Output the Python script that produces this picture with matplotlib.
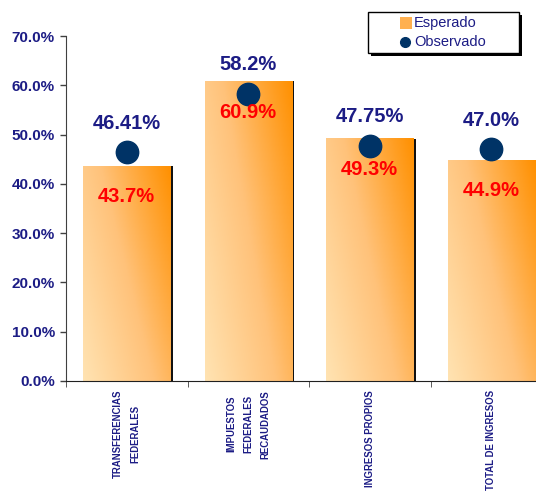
import numpy as np
import matplotlib
matplotlib.use("Agg")
import matplotlib.pyplot as plt
from matplotlib.colors import LinearSegmentedColormap
from matplotlib.patches import Rectangle
from matplotlib.lines import Line2D

categorias = ["TRANSFERENCIAS\nFEDERALES", "IMPUESTOS\nFEDERALES\nRECAUDADOS",
              "INGRESOS PROPIOS", "TOTAL DE INGRESOS"]
esperado = [43.7, 60.9, 49.3, 44.9]
observado = [46.41, 58.2, 47.75, 47.0]
etiquetas_obs = ["46.41%", "58.2%", "47.75%", "47.0%"]
etiquetas_esp = ["43.7%", "60.9%", "49.3%", "44.9%"]
yticks = [0, 10, 20, 30, 40, 50, 60, 70]

NAVY = "#1c1c85"
MARCA = "#003366"
ROJO = "#ff0000"
FUENTE = ["Liberation Sans", "DejaVu Sans"]

naranja = LinearSegmentedColormap.from_list("naranja", ["#ffe3b2", "#ffc27a", "#ff9000"])

W, H = 536, 493
fig = plt.figure(figsize=(W / 100, H / 100), dpi=100)
ax = fig.add_axes([66 / W, 1 - 381 / H, 486 / W, 345 / H])

x = np.arange(len(categorias))
ancho = 0.72

# sombra negra detras de cada barra
ax.bar(x + 0.018, np.array(esperado) - 0.1, width=ancho, color="#111111", zorder=1)
barras = ax.bar(x, esperado, width=ancho, color="none", zorder=2)

# relleno degradado diagonal
u, v = np.meshgrid(np.linspace(0, 1, 80), np.linspace(1, 0, 160))
grad = np.clip(0.62 * u + 0.38 * v, 0, 1)
for b in barras:
    x0, w, h = b.get_x(), b.get_width(), b.get_height()
    im = ax.imshow(grad, cmap=naranja, extent=[x0, x0 + w, 0, h],
                   aspect="auto", zorder=2, vmin=0, vmax=1)
    im.set_clip_path(b)

ax.scatter(x, observado, s=260, color=MARCA, zorder=4)

for i in range(len(categorias)):
    ax.annotate(etiquetas_obs[i], (x[i], observado[i]), xytext=(0, 21),
                textcoords="offset points", ha="center", va="center",
                color=NAVY, fontsize=14.5, fontweight="bold", family=FUENTE, zorder=5)
    ax.annotate(etiquetas_esp[i], (x[i], esperado[i]), xytext=(0, -22.5),
                textcoords="offset points", ha="center", va="center",
                color=ROJO, fontsize=14.5, fontweight="bold", family=FUENTE, zorder=5)

ax.set_xlim(-0.5, 3.5)
ax.set_ylim(0, 70)
ax.set_yticks(yticks)
ax.set_yticklabels(["%.1f%%" % t for t in yticks], color=NAVY, fontsize=11,
                   fontweight="bold", family=FUENTE)
ax.tick_params(axis="y", direction="out", length=4, width=1, color="#404040", pad=4)

ax.set_xticks(x)
ax.set_xticklabels([])
ax.set_xticks([-0.5, 0.5, 1.5, 2.5], minor=True)
ax.tick_params(axis="x", which="major", length=0)
ax.tick_params(axis="x", which="minor", direction="out", length=4, color="#404040")
for i, c in enumerate(categorias):
    ax.text(x[i], -1.8, c, rotation=90, ha="center", va="top", multialignment="center",
            linespacing=1.85, color=NAVY, fontsize=6.9, fontweight="bold", family=FUENTE)

for s in ["top", "right"]:
    ax.spines[s].set_visible(False)
ax.spines["left"].set_color("#404040")
ax.spines["bottom"].set_color("#202020")

# leyenda dibujada a mano en pixeles de la figura
def fx(px):
    return px / W

def fy(py):
    return 1 - py / H

fig.patches.append(Rectangle((fx(371), fy(56)), fx(151), 41 / H, transform=fig.transFigure,
                             facecolor="black", edgecolor="none", zorder=10))
fig.patches.append(Rectangle((fx(368), fy(53)), fx(151), 41 / H, transform=fig.transFigure,
                             facecolor="white", edgecolor="black", linewidth=1, zorder=11))
fig.patches.append(Rectangle((fx(400), fy(29)), fx(12), 12 / H, transform=fig.transFigure,
                             facecolor="#ffb050", edgecolor="none", zorder=12))
fig.lines.append(Line2D([fx(405)], [fy(42)], marker="o", markersize=7, color=MARCA,
                        linestyle="none", transform=fig.transFigure, zorder=12))
fig.text(fx(414), fy(23), "Esperado", ha="left", va="center", color=NAVY,
         fontsize=10.5, family=FUENTE, zorder=13)
fig.text(fx(414), fy(42), "Observado", ha="left", va="center", color=NAVY,
         fontsize=10.5, family=FUENTE, zorder=13)

fig.savefig("out.png", dpi=100)
